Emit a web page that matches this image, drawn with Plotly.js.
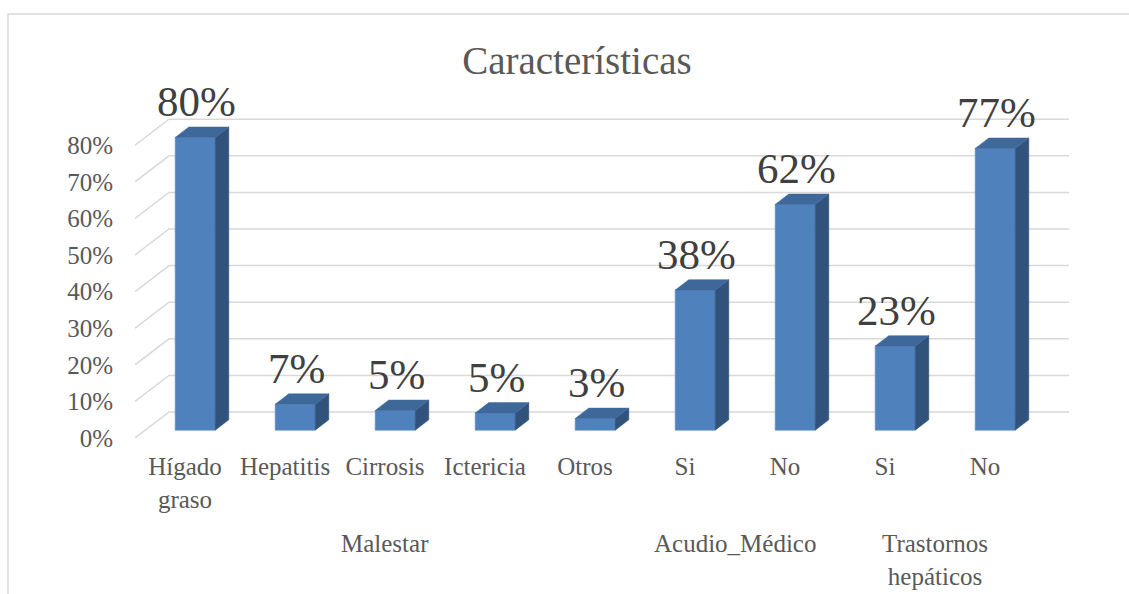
<!DOCTYPE html>
<html>
<head>
<meta charset="utf-8">
<script src="https://cdn.plot.ly/plotly-3.0.1.min.js"></script>
<style>html,body{margin:0;padding:0;background:#fff;}#chart{width:1129px;height:594px;}</style>
</head>
<body>
<div id="chart"></div>
<script>
// ---- data ----
const categories = ['Hígado<br>graso', 'Hepatitis', 'Cirrosis', 'Ictericia', 'Otros', 'Si', 'No', 'Si', 'No'];
const values = [80, 7.1, 5.4, 4.7, 3.2, 38.3, 61.7, 23, 77];
const groupNames = ['Malestar', 'Acudio_Médico', 'Trastornos<br>hepáticos'];
const groupFirst = [0, 5, 7];
const groupLast = [4, 6, 8];
const yTicks = [0, 10, 20, 30, 40, 50, 60, 70, 80];
const titleText = 'Características';

// ---- 3D geometry (in axis units) ----
const DX = 0.34;   // full floor depth along x
const DY = 7.1;    // full floor depth along y
const FRONT = 0.3; // bar front plane depth fraction
const DEPTH = 0.4; // bar depth fraction
const BW = 0.4;    // bar width
const FONT = 'Liberation Serif, Times New Roman, serif';
const cFront = '#4F81BD', cSide = '#30527B', cTop = '#3E679A';

const xIdx = categories.map((_, i) => i);
const traces = [];

// gridlines (slanted floor part + back wall)
const gx = [], gy = [];
yTicks.forEach(t => {
  gx.push(-0.5, -0.5 + DX, categories.length - 0.5 + DX, null);
  gy.push(t, t + DY, t + DY, null);
});
traces.push({type: 'scatter', mode: 'lines', x: gx, y: gy, line: {color: '#D9D9D9', width: 1.5}, hoverinfo: 'skip', showlegend: false});

const labelAnn = [];
values.forEach((v, i) => {
  const x0 = xIdx[i] + FRONT * DX - BW / 2;
  const x1 = x0 + BW;
  const y0 = FRONT * DY;
  const ddx = DEPTH * DX, ddy = DEPTH * DY;
  // front face
  traces.push({type: 'scatter', mode: 'lines', fill: 'toself', fillcolor: cFront,
    x: [x0, x1, x1, x0, x0], y: [y0, y0, y0 + v, y0 + v, y0],
    line: {color: '#5A8AC6', width: 0.6}, hoverinfo: 'skip', showlegend: false});
  // side face
  traces.push({type: 'scatter', mode: 'lines', fill: 'toself', fillcolor: cSide,
    x: [x1, x1 + ddx, x1 + ddx, x1, x1], y: [y0, y0 + ddy, y0 + ddy + v, y0 + v, y0],
    line: {color: cSide, width: 0.5}, hoverinfo: 'skip', showlegend: false});
  // top face
  traces.push({type: 'scatter', mode: 'lines', fill: 'toself', fillcolor: cTop,
    x: [x0, x1, x1 + ddx, x0 + ddx, x0], y: [y0 + v, y0 + v, y0 + v + ddy, y0 + v + ddy, y0 + v],
    line: {color: cTop, width: 0.5}, hoverinfo: 'skip', showlegend: false});
  labelAnn.push({x: xIdx[i] + FRONT * DX + 0.01, y: y0 + v + ddy, xref: 'x', yref: 'y',
    text: Math.round(v) + '%', showarrow: false, yanchor: 'bottom', yshift: 0,
    font: {family: FONT, size: 43, color: '#404040'}});
});

const groupAnn = groupNames.map((g, k) => ({
  x: (groupFirst[k] + groupLast[k]) / 2, y: -0.265, xref: 'x', yref: 'paper',
  text: g, showarrow: false, yanchor: 'top', align: 'center',
  font: {family: FONT, size: 25, color: '#595959'}
}));

const layout = {
  width: 1129, height: 594,
  margin: {l: 135, r: 58, t: 100, b: 156},
  paper_bgcolor: '#fff', plot_bgcolor: 'rgba(0,0,0,0)',
  showlegend: false,
  title: {text: titleText, xref: 'container', yref: 'container', x: 0.511, y: 0.899,
    xanchor: 'center', yanchor: 'middle', font: {family: FONT, size: 39, color: '#595959'}},
  xaxis: {range: [-0.5, categories.length - 0.5 + DX + 0.02], tickvals: xIdx, ticktext: categories,
    showgrid: false, zeroline: false, showline: false, ticks: '', ticklabelstandoff: 11,
    tickfont: {family: FONT, size: 25, color: '#595959'}, fixedrange: true},
  yaxis: {range: [0, 92.35], tickvals: yTicks, ticktext: yTicks.map(t => t + '%'),
    showgrid: false, zeroline: false, showline: false, ticks: '', ticklabelstandoff: 21,
    tickfont: {family: FONT, size: 25, color: '#595959'}, fixedrange: true},
  annotations: labelAnn.concat(groupAnn),
  shapes: [{type: 'rect', xref: 'paper', yref: 'paper', x0: -0.1357, x1: 1.07, y0: -0.48, y1: 1.2544,
    line: {color: '#D9D9D9', width: 1.5}, fillcolor: 'rgba(0,0,0,0)', layer: 'below'}]
};

Plotly.newPlot('chart', traces, layout, {displayModeBar: false, staticPlot: true});
</script>
</body>
</html>
